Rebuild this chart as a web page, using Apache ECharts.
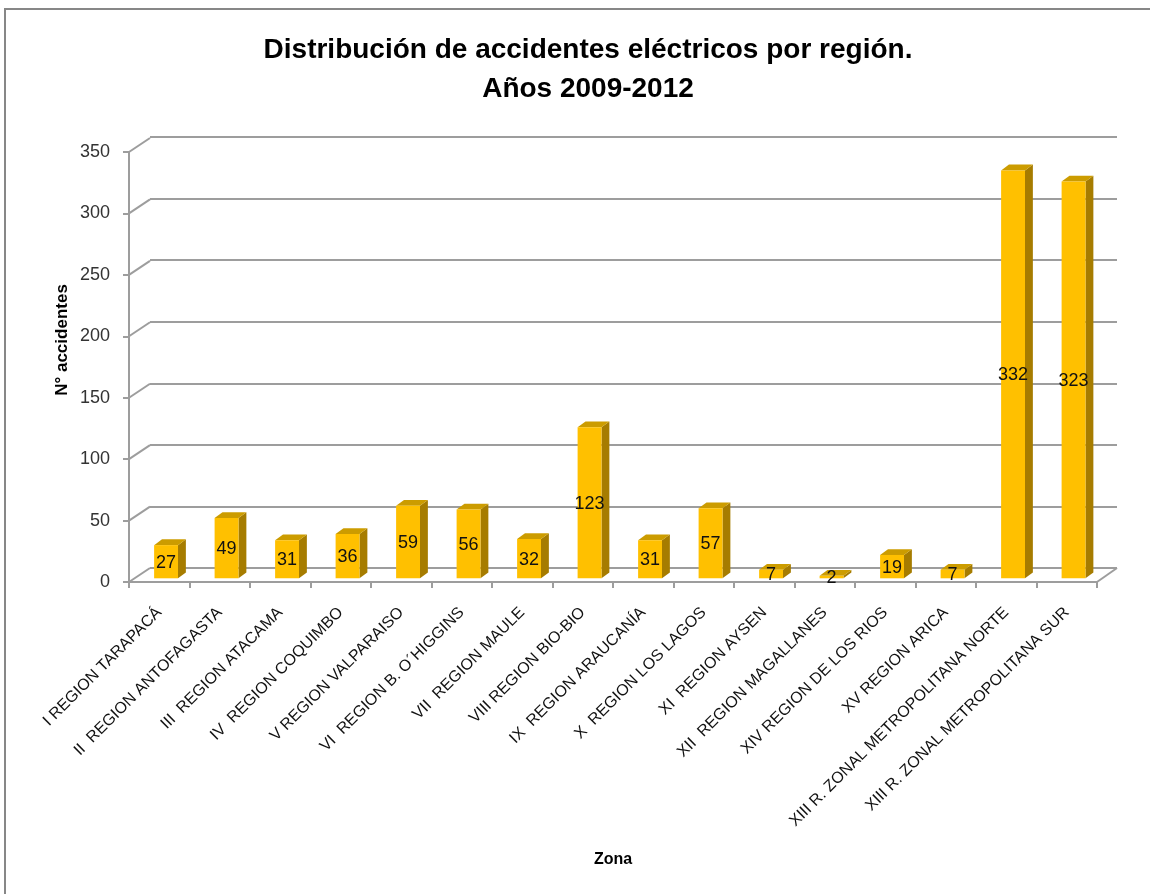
<!DOCTYPE html>
<html>
<head>
<meta charset="utf-8">
<script src="https://cdn.jsdelivr.net/npm/echarts@6/dist/echarts.min.js"></script>
<style>
  html, body { margin: 0; padding: 0; background: #fff; }
  #chart { width: 1150px; height: 894px; }
</style>
</head>
<body>
<div id="chart"></div>
<script>
var categories = ['I REGION TARAPACÁ', 'II  REGION ANTOFAGASTA', 'III  REGION ATACAMA', 'IV  REGION COQUIMBO',
    'V REGION VALPARAISO', 'VI  REGION B. O´HIGGINS', 'VII  REGION MAULE', 'VIII REGION BIO-BIO',
    'IX  REGION ARAUCANÍA', 'X  REGION LOS LAGOS', 'XI  REGION AYSEN', 'XII  REGION MAGALLANES',
    'XIV REGION DE LOS RIOS', 'XV REGION ARICA', 'XIII R. ZONAL METROPOLITANA NORTE', 'XIII R. ZONAL METROPOLITANA SUR'];
var accidentes = [27, 49, 31, 36, 59, 56, 32, 123, 31, 57, 7, 2, 19, 7, 332, 323];
var yTicks = [0, 50, 100, 150, 200, 250, 300, 350];

var font = "'Liberation Sans', Arial, sans-serif";
var gridColor = '#9d9d9d';

var myChart = echarts.init(document.getElementById('chart'));

// caras de la barra 3D
function renderBar(params, api) {
    var v = api.value(1);
    var base = api.coord([api.value(0), 0]);
    var top = api.coord([api.value(0), v]);
    var band = api.size([1, 0])[0];
    var x0 = base[0] - band * 0.085, x1 = base[0] + band * 0.31;
    var dx = band * 0.13, dy = 5.8, sh = 3.7;
    var yb = base[1] - sh, yt = top[1] - sh;
    return {
        type: 'group',
        children: [
            { type: 'polygon', shape: { points: [[x1, yt], [x1 + dx, yt - dy], [x1 + dx, yb - dy], [x1, yb]] },
              style: { fill: '#a67c00' } },
            { type: 'polygon', shape: { points: [[x0, yt], [x0 + dx, yt - dy], [x1 + dx, yt - dy], [x1, yt]] },
              style: { fill: '#cc9c00' } },
            { type: 'rect', shape: { x: x0, y: yt, width: x1 - x0, height: yb - yt },
              style: { fill: '#ffc000' } },
            { type: 'text', z2: 10, style: { text: String(v), x: (x0 + x1) / 2, y: (yt + yb) / 2 + 1,
              align: 'center', verticalAlign: 'middle', font: '18px ' + font, fill: '#111' } }
        ]
    };
}

// diagonales de la pared del fondo
function renderWall(params, api) {
    var v = api.value(1);
    var p = api.coord([0, v]);
    var band = api.size([1, 0])[0];
    var left = p[0] - band / 2;
    var st = { stroke: gridColor, lineWidth: 2 };
    var children = [{ type: 'line', shape: { x1: left, y1: p[1], x2: left + 21, y2: p[1] - 14 }, style: st }];
    if (v === 0) {
        var right = api.coord([categories.length - 1, 0])[0] + band / 2;
        children.push({ type: 'line', shape: { x1: right, y1: p[1], x2: right + 20, y2: p[1] - 14 }, style: st });
    }
    return { type: 'group', children: children };
}

option = {
    animation: false,
    backgroundColor: '#fff',
    title: {
        text: 'Distribución de accidentes eléctricos por región.\nAños 2009-2012',
        left: 583,
        top: 26,
        textAlign: 'center',
        textStyle: { fontFamily: font, fontSize: 28, fontWeight: 'bold', color: '#000', lineHeight: 39 }
    },
    graphic: [
        { type: 'rect', shape: { x: 5, y: 9, width: 1160, height: 900 },
          style: { fill: 'none', stroke: '#878787', lineWidth: 2 }, silent: true },
        { type: 'text', x: 62, y: 340, rotation: Math.PI / 2,
          style: { text: 'N° accidentes', font: 'bold 17px ' + font, fill: '#000',
                   align: 'center', verticalAlign: 'middle' } }
    ],
    grid: [
        { left: 129, right: 53, top: 152, bottom: 312 },
        { left: 150, right: 33, top: 137, bottom: 326 }
    ],
    xAxis: [
        {
            gridIndex: 0,
            type: 'category',
            data: categories,
            name: 'Zona',
            nameLocation: 'middle',
            nameGap: 270,
            nameTextStyle: { fontFamily: font, fontSize: 16, fontWeight: 'bold', color: '#000' },
            axisLine: { lineStyle: { color: gridColor, width: 2 } },
            axisTick: { show: true, length: 6, lineStyle: { color: gridColor, width: 2 } },
            axisLabel: { rotate: 45, interval: 0, margin: 28, fontFamily: font, fontSize: 16, color: '#111' },
            splitLine: { show: false }
        },
        {
            gridIndex: 1,
            type: 'category',
            data: categories,
            show: false
        }
    ],
    yAxis: [
        {
            gridIndex: 0,
            type: 'value',
            min: 0,
            max: 350,
            interval: 50,
            axisLine: { show: true, lineStyle: { color: gridColor, width: 2 } },
            axisTick: { show: true, length: 6, lineStyle: { color: gridColor, width: 2 } },
            axisLabel: { margin: 19, fontFamily: font, fontSize: 18, color: '#333' },
            splitLine: { show: false }
        },
        {
            gridIndex: 1,
            type: 'value',
            min: 0,
            max: 350,
            interval: 50,
            axisLine: { show: false },
            axisTick: { show: false },
            axisLabel: { show: false },
            splitLine: { show: true, lineStyle: { color: gridColor, width: 2 } }
        }
    ],
    series: [
        {
            type: 'custom',
            xAxisIndex: 0,
            yAxisIndex: 0,
            renderItem: renderWall,
            data: yTicks.map(function (v) { return [0, v]; }),
            silent: true,
            z: 1
        },
        {
            name: 'N° accidentes',
            type: 'custom',
            xAxisIndex: 0,
            yAxisIndex: 0,
            renderItem: renderBar,
            data: accidentes.map(function (v, i) { return [i, v]; }),
            z: 3
        }
    ]
};
myChart.setOption(option);
</script>
</body>
</html>
